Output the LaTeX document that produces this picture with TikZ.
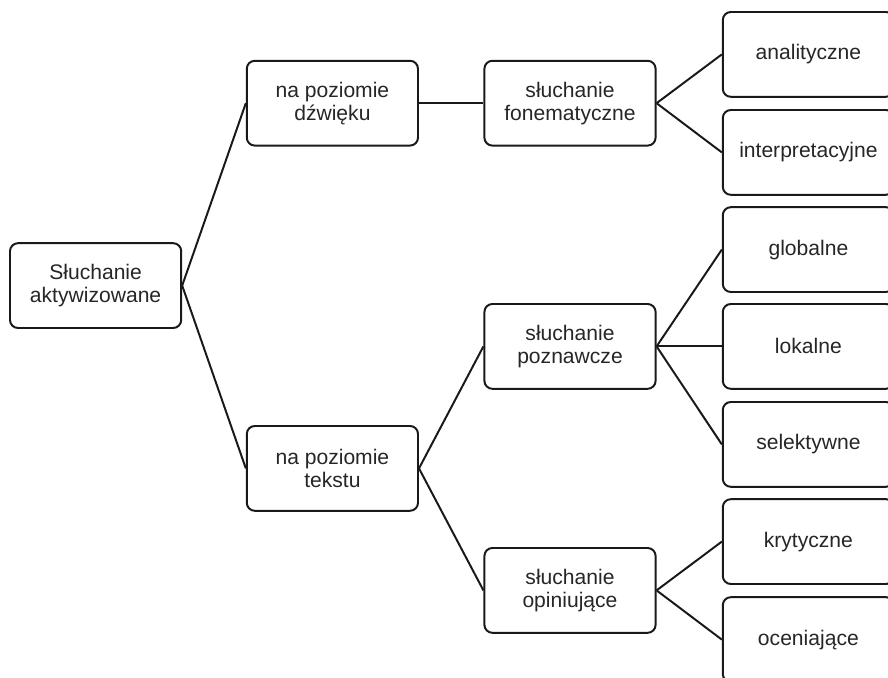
\documentclass[tikz,border=0pt]{standalone}
\usepackage{fontspec}
\setmainfont{Liberation Sans}
\begin{document}
\begin{tikzpicture}[box/.style={draw=black!90,line width=1.4pt,rounded corners=0.2cm,minimum width=4.28cm,minimum height=2.12cm,align=center,inner sep=0pt,text=black!85,font=\fontsize{15}{16.4}\selectfont},
link/.style={draw=black!90,line width=1.4pt}]
\useasboundingbox (0,0) rectangle (22.2,16.95);
\node[box] (root) at (2.39,9.81) {Słuchanie\\aktywizowane};
\node[box] (dzwiek) at (8.31,14.37) {na poziomie\\dźwięku};
\node[box] (tekst) at (8.31,5.24) {na poziomie\\tekstu};
\node[box] (fonem) at (14.25,14.37) {słuchanie\\fonematyczne};
\node[box] (poznaw) at (14.25,8.29) {słuchanie\\poznawcze};
\node[box] (opin) at (14.25,2.19) {słuchanie\\opiniujące};
\node[box] (anal) at (20.21,15.59) {analityczne};
\node[box] (interp) at (20.21,13.14) {interpretacyjne};
\node[box] (glob) at (20.21,10.71) {globalne};
\node[box] (lok) at (20.21,8.29) {lokalne};
\node[box] (selek) at (20.21,5.84) {selektywne};
\node[box] (kryt) at (20.21,3.41) {krytyczne};
\node[box] (ocen) at (20.21,0.96) {oceniające};
\draw[link] (root.east) -- (dzwiek.west);
\draw[link] (root.east) -- (tekst.west);
\draw[link] (dzwiek.east) -- (fonem.west);
\draw[link] (tekst.east) -- (poznaw.west);
\draw[link] (tekst.east) -- (opin.west);
\draw[link] (fonem.east) -- (anal.west);
\draw[link] (fonem.east) -- (interp.west);
\draw[link] (poznaw.east) -- (glob.west);
\draw[link] (poznaw.east) -- (lok.west);
\draw[link] (poznaw.east) -- (selek.west);
\draw[link] (opin.east) -- (kryt.west);
\draw[link] (opin.east) -- (ocen.west);
\end{tikzpicture}
\end{document}
